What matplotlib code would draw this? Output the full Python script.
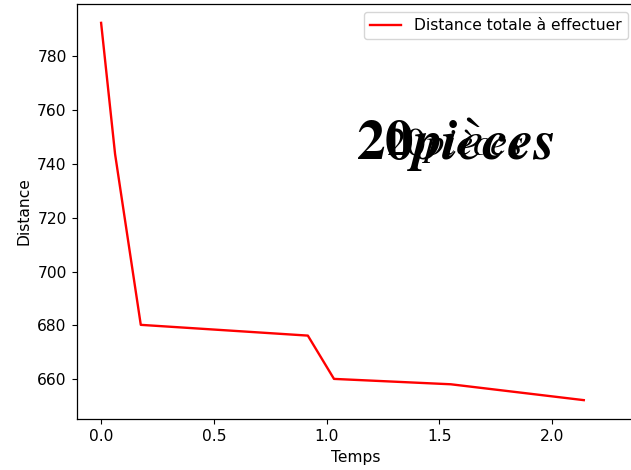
import matplotlib
matplotlib.use('Agg')
import matplotlib.pyplot as plt

# Distance totale en fonction du temps
temps = [0.0, 0.062, 0.176, 0.917, 1.033, 1.551, 2.141]
distance = [792.5, 743.7, 680.2, 676.2, 660.1, 658.1, 652.2]

plt.rcParams['mathtext.fontset'] = 'stix'
plt.rcParams['font.size'] = 11.2
plt.rcParams['xtick.major.size'] = 3.9
plt.rcParams['ytick.major.size'] = 3.9
plt.rcParams['axes.linewidth'] = 0.9

fig = plt.figure(figsize=(6.31, 4.70), dpi=100)
ax = fig.add_axes([0.122, 0.1085, 0.885, 0.883])
ax.plot(temps, distance, color='red', linewidth=1.7, label='Distance totale à effectuer')
ax.set_xlim(-0.107, 2.37)
ax.set_xlabel('Temps')
ax.set_ylabel('Distance')
ax.legend(loc='upper right')

# titre superpose (deux fois)
ax.text(1.57, 747, r'$\mathbf{20}\boldsymbol{pi}\grave{e}\boldsymbol{ces}$', fontsize=41,
        ha='center', va='center')
ax.text(1.57, 747, r'$20 pièces$', fontsize=28, ha='center', va='center')

fig.savefig('out.png', dpi=100)
